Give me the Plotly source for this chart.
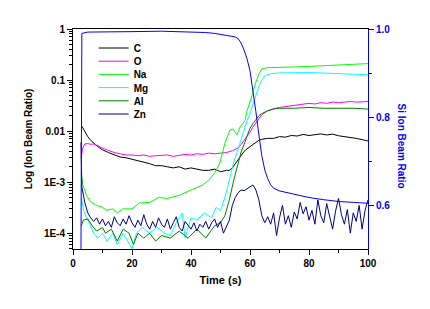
import plotly.graph_objects as go

# ---------------- data ----------------
c_t = [3, 4, 5, 6, 7, 8, 9, 10, 12, 14, 16, 18, 20, 22, 24, 26, 28, 30, 32, 34, 36, 38, 40, 42, 44, 46, 48, 49, 50, 52, 53, 54, 55, 56, 57, 58, 59, 60, 61, 62, 63, 64, 66, 68, 70, 72, 74, 76, 78, 80, 82, 84, 86, 88, 90, 92, 94, 96, 98, 100]
c_v = [0.0125, 0.0095, 0.0078, 0.0066, 0.0058, 0.0052, 0.0047, 0.0043, 0.0038, 0.0034, 0.0031, 0.0030, 0.0028, 0.0026, 0.0025, 0.0023, 0.0021, 0.0021, 0.0020, 0.0019, 0.0020, 0.0018, 0.0019, 0.0018, 0.0017, 0.0017, 0.0018, 0.0017, 0.0016, 0.0017, 0.0017, 0.0019, 0.0023, 0.0028, 0.0034, 0.0040, 0.0045, 0.0050, 0.0056, 0.0060, 0.0066, 0.0069, 0.0072, 0.0072, 0.0078, 0.0076, 0.0082, 0.0080, 0.0086, 0.0082, 0.0085, 0.0088, 0.0084, 0.0087, 0.0081, 0.0078, 0.0076, 0.0072, 0.0068, 0.0064]

o_t = [2.8, 3.2, 4, 5, 6, 7, 8, 10, 12, 14, 16, 18, 20, 22, 24, 26, 28, 30, 32, 34, 36, 38, 40, 42, 44, 46, 48, 50, 52, 54, 56, 57, 58, 59, 60, 61, 62, 63, 64, 66, 68, 70, 72, 74, 76, 78, 80, 82, 84, 86, 88, 90, 92, 94, 96, 98, 100]
o_v = [0.0030, 0.0045, 0.0056, 0.0057, 0.0055, 0.0056, 0.0053, 0.0046, 0.0042, 0.0038, 0.0036, 0.0034, 0.0034, 0.0033, 0.0034, 0.0032, 0.0033, 0.0033, 0.0034, 0.0032, 0.0034, 0.0035, 0.0034, 0.0036, 0.0035, 0.0037, 0.0036, 0.0037, 0.0038, 0.0041, 0.0047, 0.0055, 0.0065, 0.0080, 0.0095, 0.0120, 0.0145, 0.0180, 0.0210, 0.0250, 0.0275, 0.0290, 0.0300, 0.0310, 0.0320, 0.0340, 0.0350, 0.0340, 0.0360, 0.0350, 0.0370, 0.0360, 0.0370, 0.0380, 0.0370, 0.0380, 0.0380]

na_t = [2.8, 3.3, 4.5, 6, 8, 9.5, 11.5, 13.5, 15, 17, 20, 22.5, 26, 29, 32, 36, 40, 44, 46, 48, 49.8, 51.5, 53.2, 54.2, 55.6, 56.6, 58.3, 59, 60, 61, 62, 63, 64, 66, 70, 75, 80, 85, 90, 95, 100]
na_v = [0.0015, 0.0009, 0.00056, 0.00041, 0.00035, 0.00033, 0.00028, 0.00030, 0.00025, 0.00030, 0.00030, 0.00039, 0.00040, 0.00050, 0.00048, 0.00055, 0.00070, 0.00088, 0.0011, 0.0015, 0.0024, 0.0058, 0.0105, 0.0110, 0.0085, 0.0120, 0.0160, 0.0250, 0.0370, 0.0600, 0.0910, 0.1300, 0.1650, 0.1750, 0.1750, 0.1800, 0.1850, 0.1900, 0.2000, 0.2050, 0.2100]

mg_t = [2.8, 3.5, 4.5, 5.5, 7, 8.5, 10, 11.5, 13.5, 15, 17, 20, 21.5, 23.5, 26, 28.5, 31, 33, 35, 37, 38, 40, 42, 44.5, 47, 48.5, 50, 51.5, 53, 54.5, 56, 57, 58, 59, 60, 61, 62, 63, 64, 65, 67, 70, 75, 80, 85, 90, 95, 100]
mg_v = [0.0005, 0.0003, 0.0002, 0.00016, 0.0001, 0.00008, 0.0001, 0.00007, 0.0001, 0.00006, 0.0001, 0.00005, 0.0001, 0.00013, 0.0001, 0.00013, 0.0001, 0.00009, 0.00016, 0.00025, 0.00008, 0.0002, 0.00018, 0.00025, 0.0002, 0.00032, 0.00028, 0.0005, 0.0011, 0.0025, 0.0045, 0.007, 0.011, 0.016, 0.022, 0.035, 0.05, 0.075, 0.10, 0.12, 0.133, 0.138, 0.141, 0.140, 0.137, 0.133, 0.130, 0.127]

al_t = [2.8, 3.5, 5, 6.5, 8, 10, 11, 13, 15, 17, 19, 20.5, 22, 24, 26, 28, 30, 33, 36, 39, 42, 45, 48, 50, 51.5, 53, 54.5, 56, 57, 58, 59, 60, 61, 62, 63, 64, 66, 68, 70, 75, 80, 85, 90, 95, 100]
al_v = [0.00014, 0.00018, 0.00019, 0.00014, 0.00011, 0.00013, 0.0001, 0.00012, 0.00007, 0.00012, 0.0001, 0.00006, 0.0001, 0.00008, 0.0001, 0.00007, 0.00009, 0.00008, 0.00011, 0.00008, 0.00012, 0.00008, 0.00014, 0.00016, 0.00022, 0.00045, 0.0011, 0.0025, 0.0039, 0.0055, 0.008, 0.0114, 0.014, 0.017, 0.020, 0.022, 0.025, 0.027, 0.028, 0.028, 0.029, 0.028, 0.028, 0.028, 0.027]

zn_t = [2.7, 3, 4, 5, 6, 7, 8, 9, 10, 11, 12, 13, 14, 15, 16, 17, 18, 19, 20, 21, 22, 23, 24, 25, 26, 27, 28, 29, 30, 31, 32, 33, 34, 35, 36, 37, 38, 39, 40, 41, 42, 43, 44, 45, 46, 47, 48, 49, 50, 51, 52, 53, 54, 55, 56, 57, 58, 59, 60, 61, 62, 63, 64, 65, 66, 67, 68, 69, 70, 71, 72, 73, 74, 75, 76, 77, 78, 79, 80, 81, 82, 83, 84, 85, 86, 87, 88, 89, 90, 91, 92, 93, 94, 95, 96, 97, 98, 99, 100]
zn_v = [0.006, 0.0008, 0.0004, 0.00025, 0.0002, 0.00017, 0.0002, 0.00015, 0.00019, 0.00014, 0.00017, 0.00013, 0.00021, 0.00016, 0.00014, 0.00019, 0.00015, 0.00022, 0.00016, 0.00013, 0.00018, 0.00014, 0.00023, 0.00015, 0.00012, 0.00017, 0.00013, 0.0002, 0.00015, 0.00013, 0.00019, 0.00012, 0.00016, 0.00021, 0.00013, 0.00011, 0.00017, 0.00014, 0.00012, 0.00016, 0.00011, 0.00015, 0.00013, 0.00017, 0.00012, 0.00016, 0.00019, 0.00013, 0.00017, 0.0001, 0.00013, 0.00018, 0.00035, 0.0005, 0.00062, 0.0007, 0.00068, 0.00075, 0.0008, 0.00088, 0.0007, 0.00045, 0.00022, 0.00016, 0.00021, 0.00015, 0.00025, 0.00009, 0.0002, 0.00035, 0.00015, 0.00022, 0.00013, 0.00026, 0.00019, 0.0004, 0.00024, 0.00033, 0.00018, 0.00028, 0.00015, 0.00045, 0.00022, 0.00016, 0.00038, 0.00021, 0.00012, 0.00027, 0.00048, 0.00023, 0.00015, 0.00029, 0.0001, 0.00025, 0.00017, 0.00035, 0.00012, 0.00028, 0.00045]

si_t = [2.7, 3.0, 5, 10, 20, 30, 40, 45, 48, 50, 52, 54, 55, 56, 57, 58, 59, 60, 61, 62, 63, 64, 65, 66, 67, 68, 70, 75, 80, 85, 90, 95, 100]
si_v = [0.5, 0.99, 0.993, 0.993, 0.994, 0.995, 0.994, 0.992, 0.990, 0.988, 0.986, 0.984, 0.982, 0.978, 0.968, 0.952, 0.932, 0.905, 0.862, 0.812, 0.760, 0.712, 0.680, 0.660, 0.646, 0.638, 0.632, 0.624, 0.617, 0.612, 0.608, 0.606, 0.604]

left_tickvals = [1e-4, 1e-3, 1e-2, 1e-1, 1]
left_ticktext = ["1E-4", "1E-3", "0.01", "0.1", "1"]
right_tickvals = [0.6, 0.8, 1.0]
right_ticktext = ["0.6", "0.8", "1.0"]

# ---------------- figure ----------------
FONT = "Arial, Liberation Sans, sans-serif"
fig = go.Figure()

series = [
    ("C", c_t, c_v, "#000000"),
    ("O", o_t, o_v, "#FF00FF"),
    ("Na", na_t, na_v, "#00FF00"),
    ("Mg", mg_t, mg_v, "#00FFFF"),
    ("Al", al_t, al_v, "#008000"),
    ("Zn", zn_t, zn_v, "#000080"),
]

# plot-area geometry in pixels (for positioning legend boxes)
PLOT_TOP, PLOT_H = 29, 220
legend_layouts = {}
for i, (name, t, v, col) in enumerate(series):
    lname = "legend" if i == 0 else f"legend{i + 1}"
    fig.add_trace(go.Scatter(x=t, y=v, name=name, mode="lines",
                             line=dict(color=col, width=1), legend=lname))
    center_px = 48 + i * 13.2
    legend_layouts[lname] = dict(
        x=0.07, y=1 - (center_px - PLOT_TOP) / PLOT_H,
        xanchor="left", yanchor="middle",
        bgcolor="rgba(0,0,0,0)", borderwidth=0,
        font=dict(family=FONT, size=10, weight="bold"),
        itemwidth=30)

fig.add_trace(go.Scatter(x=si_t, y=si_v, name="Si", mode="lines",
                         line=dict(color="#0000FF", width=1),
                         yaxis="y2", showlegend=False))

minor_log = [m * 10 ** k for k in range(-5, 0) for m in range(2, 10)]

fig.update_layout(
    width=430, height=309,
    margin=dict(l=73, r=62, t=29, b=60),
    paper_bgcolor="white", plot_bgcolor="white",
    font=dict(family=FONT, size=10, color="black", weight="bold"),
    showlegend=True,
    xaxis=dict(range=[0, 100], showgrid=False, zeroline=False,
               showline=True, linecolor="black", linewidth=1, mirror=True,
               ticks="outside", ticklen=5, tickcolor="black",
               tickvals=[0, 20, 40, 60, 80, 100],
               minor=dict(ticks="outside", ticklen=3, tickvals=[10, 30, 50, 70, 90], tickcolor="black"),
               tickfont=dict(family=FONT, size=10, weight="bold"),
               title=dict(text="Time (s)", font=dict(family=FONT, size=11, weight="bold"), standoff=8)),
    xaxis2=dict(range=[0, 100], overlaying="x", side="top", anchor="y",
                showgrid=False, zeroline=False, showticklabels=False,
                ticks="inside", ticklen=3, tickcolor="black", dtick=10, tick0=0),
    yaxis=dict(type="log", range=[-4.31, 0], showgrid=False, zeroline=False,
               showline=True, linecolor="black", linewidth=1,
               ticks="outside", ticklen=5, tickcolor="black",
               tickvals=left_tickvals, ticktext=left_ticktext,
               minor=dict(ticks="outside", ticklen=3, tickvals=minor_log, tickcolor="black"),
               tickfont=dict(family=FONT, size=10, weight="bold")),
    yaxis2=dict(range=[0.5, 1.0], overlaying="y", side="right", anchor="x",
                showgrid=False, zeroline=False,
                showline=True, linecolor="#0000FF", linewidth=1,
                ticks="outside", ticklen=5, tickcolor="#0000FF",
                tickvals=right_tickvals, ticktext=right_ticktext,
                minor=dict(ticks="outside", ticklen=3, tickvals=[0.7, 0.9], tickcolor="#0000FF"),
                tickfont=dict(family=FONT, size=10, color="#0000FF", weight="bold")),
    annotations=[
        dict(text="Log (Ion Beam Ratio)", xref="paper", yref="paper",
             x=-0.152, y=0.5, xanchor="center", yanchor="middle",
             textangle=-90, showarrow=False,
             font=dict(family=FONT, size=10, color="black", weight="bold")),
        dict(text="Si Ion Beam Ratio", xref="paper", yref="paper",
             x=1.112, y=0.47, xanchor="center", yanchor="middle",
             textangle=90, showarrow=False,
             font=dict(family=FONT, size=10, color="#0000FF", weight="bold")),
    ],
    **legend_layouts,
)

fig.write_html("out.html")
